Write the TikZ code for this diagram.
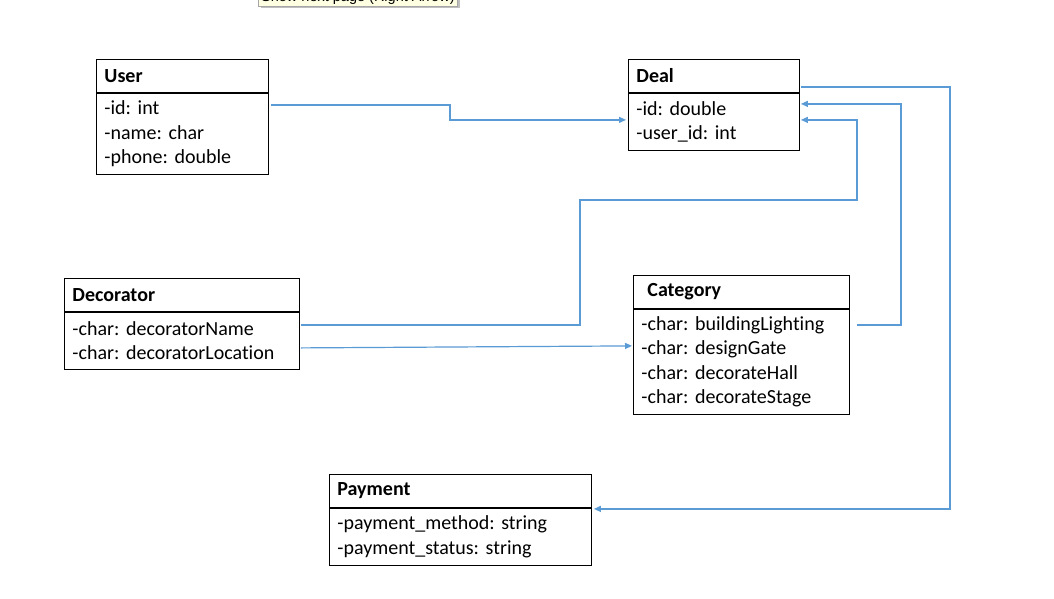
\documentclass[tikz,border=0pt]{standalone}
\usepackage{fontspec}
\setmainfont{Carlito}[Ligatures=CommonOff]
\newfontfamily\tipfont{Liberation Sans}
\usetikzlibrary{arrows.meta,calc,positioning,shadows}
\definecolor{linkblue}{RGB}{91,155,213}
\definecolor{tipyellow}{RGB}{255,255,225}
\frenchspacing
\tikzset{
  classhead/.style={draw, line width=0.9pt, anchor=north west, minimum height=33pt,
    inner xsep=8pt, inner ysep=0pt, text width=#1, align=left,
    font=\fontsize{20}{24.5}\selectfont\bfseries},
  classbody/.style={draw, line width=0.9pt, anchor=north west, inner xsep=8pt,
    inner ysep=0pt, text width=#1, align=left,
    font=\fontsize{20}{24.5}\selectfont},
  link/.style={draw=linkblue, line width=1.2pt, ->},
}
\begin{document}
\begin{tikzpicture}[x=1pt,y=-1pt,>={Triangle[length=7pt,width=6pt]}]
%
  \path[use as bounding box, fill=white] (0,0) rectangle (1054,598);
%
  \node[draw=gray!70, fill=tipyellow, drop shadow, anchor=south west, inner xsep=3pt,
        inner ysep=1.5pt, font=\tipfont\fontsize{14.5}{16}\selectfont] (tip) at (258,6)
        {Show next page (Right Arrow)};
%
  \node[classhead=156pt] (user) at (96,59) {User};
  \node[classbody=156pt, minimum height=81pt] (userbody) at (user.south west)
    {-id: int\\-name: char\\-phone: double};
%
  \node[classhead=155pt] (deal) at (628,59) {Deal};
  \node[classbody=155pt, minimum height=57pt] (dealbody) at (deal.south west)
    {-id: double\\-user\_id: int};
%
  \node[classhead=219pt] (deco) at (64,278) {Decorator};
  \node[classbody=219pt, minimum height=57pt] (decobody) at (deco.south west)
    {-char: decoratorName\\-char: decoratorLocation};
%
  \node[classhead=188pt, inner xsep=14pt] (cat) at (633,275) {Category};
  \node[classbody=200pt, minimum height=105pt] (catbody) at (cat.south west)
    {-char: buildingLighting\\-char: designGate\\-char: decorateHall\\-char: decorateStage};
%
  \node[classhead=246pt] (pay) at (329,474) {Payment};
  \node[classbody=246pt, minimum height=57pt] (paybody) at (pay.south west)
    {-payment\_method: string\\-payment\_status: string};
%
  \coordinate (bend) at (857,200) ;
%
  \draw [link] ($(userbody.north east)+(2,12)$) -- ++(179,0) |- ($(dealbody.north west)+(-2,27)$) ;
  \draw [link] ($(deal.south east)+(1,-6)$) -- ++(149,0) |- ($(paybody.north east)+(2,1)$) ;
  \draw [link] ($(catbody.north east)+(7,16)$) -- ++(44,0) |- ($(dealbody.north east)+(1,11)$) ;
  \draw [link] ($(decobody.north east)+(1,13)$) -- ++(279,0) |- (bend) |- ($(dealbody.north east)+(1,27)$) ;
  \draw [link] ($(decobody.north east)+(1,36)$) -- ($(catbody.north west)+(-1,37)$) ;
%
\end{tikzpicture}
\end{document}
